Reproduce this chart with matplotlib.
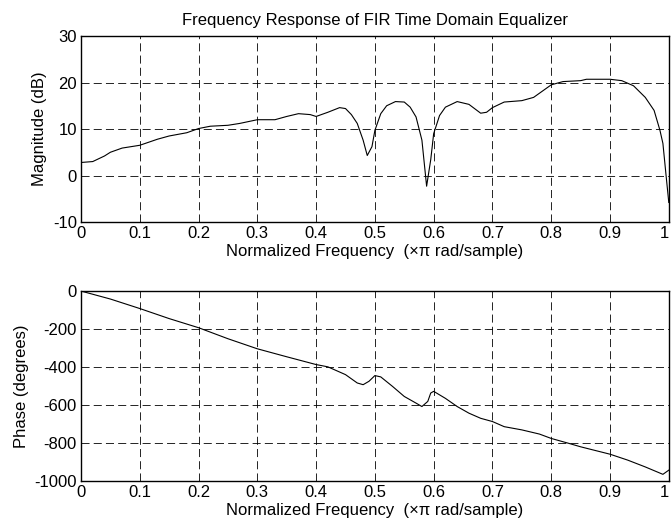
import matplotlib

matplotlib.use("Agg")
import matplotlib.pyplot as plt  # noqa: E402

plt.rcParams["font.family"] = ["Liberation Sans", "DejaVu Sans"]
plt.rcParams["axes.unicode_minus"] = False
plt.rcParams["lines.scale_dashes"] = False
FS = 12

# --- magnitude response (dB) ---
mag_freq = [0.0, 0.02, 0.04, 0.05, 0.07, 0.1, 0.13, 0.15, 0.18, 0.2, 0.22, 0.25,
            0.27, 0.3, 0.33, 0.35, 0.37, 0.39, 0.4, 0.42, 0.44, 0.45, 0.46, 0.47,
            0.48, 0.487, 0.495, 0.5, 0.51, 0.52, 0.535, 0.55, 0.56, 0.57, 0.58,
            0.588, 0.595, 0.6, 0.61, 0.62, 0.64, 0.66, 0.68, 0.69, 0.7, 0.72,
            0.75, 0.77, 0.79, 0.8, 0.82, 0.85, 0.86, 0.9, 0.92, 0.94, 0.96,
            0.975, 0.985, 0.99, 0.995, 1.0]
mag_db = [2.8, 3.0, 4.2, 5.0, 5.9, 6.5, 7.8, 8.5, 9.2, 10.1, 10.6, 10.8,
          11.2, 12.0, 12.0, 12.7, 13.3, 13.1, 12.7, 13.6, 14.6, 14.4, 13.1, 11.2,
          7.6, 4.3, 6.2, 9.7, 13.3, 15.0, 15.9, 15.8, 14.7, 12.6, 7.6,
          -2.3, 3.4, 9.0, 12.9, 14.7, 15.9, 15.3, 13.4, 13.6, 14.6, 15.8,
          16.1, 16.8, 18.6, 19.5, 20.2, 20.4, 20.7, 20.7, 20.4, 19.3, 16.8,
          14.0, 9.7, 6.9, 0.5, -5.8]

# --- phase response (degrees) ---
ph_freq = [0.0, 0.05, 0.1, 0.15, 0.2, 0.25, 0.3, 0.35, 0.4, 0.42, 0.45, 0.47,
           0.48, 0.49, 0.5, 0.51, 0.53, 0.55, 0.57, 0.58, 0.59, 0.595, 0.6,
           0.62, 0.64, 0.66, 0.68, 0.7, 0.72, 0.75, 0.78, 0.8, 0.83, 0.85,
           0.9, 0.93, 0.96, 0.99, 1.0]
ph_deg = [0, -42, -92, -145, -193, -251, -304, -346, -387, -399, -440, -484,
          -493, -475, -445, -452, -502, -555, -590, -608, -581, -537, -528,
          -565, -608, -643, -670, -687, -714, -731, -753, -776, -802, -820,
          -859, -890, -926, -965, -943]

x_ticks = [0, 0.1, 0.2, 0.3, 0.4, 0.5, 0.6, 0.7, 0.8, 0.9, 1]
x_tick_labels = ["0", "0.1", "0.2", "0.3", "0.4", "0.5", "0.6", "0.7", "0.8", "0.9", "1"]
mag_ticks = [-10, 0, 10, 20, 30]
ph_ticks = [-1000, -800, -600, -400, -200, 0]
xlabel = "Normalized Frequency  (\u00d7\u03c0 rad/sample)"

fig = plt.figure(figsize=(6.71, 5.32), dpi=100)
ax1 = fig.add_axes([0.1207, 0.5827, 0.876, 0.3496])
ax2 = fig.add_axes([0.1207, 0.0959, 0.876, 0.357])


def _style(ax, yticks):
    ax.set_xlim(0, 1)
    ax.set_xticks(x_ticks)
    ax.set_xticklabels(x_tick_labels)
    # the axes run to the figure edge: keep the last "1" inside the canvas
    ax.get_xticklabels()[-1].set_horizontalalignment("right")
    ax.set_ylim(yticks[0], yticks[-1])
    ax.set_yticks(yticks)
    ax.grid(True, color="black", linestyle=(0, (5.8, 3.0)), linewidth=0.6)
    ax.tick_params(direction="in", length=0, labelsize=FS, pad=3)
    for s in ax.spines.values():
        s.set_linewidth(1.0)
    ax.set_xlabel(xlabel, fontsize=FS, labelpad=2)


ax1.plot(mag_freq, mag_db, color="black", lw=0.8)
_style(ax1, mag_ticks)
ax1.set_ylabel("Magnitude (dB)", fontsize=FS, labelpad=4)
ax1.set_title("Frequency Response of FIR Time Domain Equalizer", fontsize=FS, pad=8)

ax2.plot(ph_freq, ph_deg, color="black", lw=0.8)
_style(ax2, ph_ticks)
ax2.set_ylabel("Phase (degrees)", fontsize=FS, labelpad=4)

fig.savefig("out.png", dpi=100)
plt.close(fig)
